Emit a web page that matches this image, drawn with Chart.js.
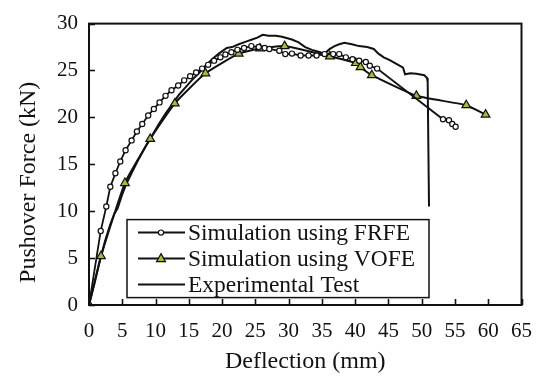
<!DOCTYPE html>
<html>
<head>
<meta charset="utf-8">
<script src="https://cdn.jsdelivr.net/npm/chart.js@4.4.1/dist/chart.umd.min.js"></script>
<style>
  html, body { margin: 0; padding: 0; background: #fff; }
  #wrap { width: 546px; height: 378px; }
</style>
</head>
<body>
<div id="wrap"><canvas id="pushover-chart" width="546" height="378"></canvas></div>
<script>
// deflection (mm) / force (kN)
const frfeX = [0, 1.76, 2.6, 3.2, 3.97, 4.7, 5.5, 6.4, 7.2, 8.0, 8.9, 9.75, 10.6, 11.5, 12.4, 13.4, 14.3, 15.2, 16.1, 17.0, 17.9, 18.8, 19.75, 20.5, 21.4, 22.3, 23.3, 24.4, 25.5, 26.4, 27.1, 28.6, 29.5, 30.5, 31.8, 33.0, 34.2, 35.4, 36.7, 37.6, 38.6, 39.6, 40.6, 41.6, 42.2, 43.3, 53.2, 54.1, 54.6, 55.1];
const frfeY = [0, 7.9, 10.5, 12.6, 14.05, 15.3, 16.5, 17.55, 18.5, 19.3, 20.2, 20.9, 21.6, 22.3, 22.9, 23.4, 23.95, 24.4, 24.8, 25.2, 25.6, 26.05, 26.4, 26.7, 26.95, 27.2, 27.4, 27.6, 27.5, 27.4, 27.3, 27.1, 26.75, 26.8, 26.6, 26.6, 26.6, 26.75, 26.75, 26.75, 26.4, 26.2, 26.05, 25.9, 25.5, 25.2, 19.8, 19.7, 19.3, 19.0];

const vofeX = [0, 1.8, 5.4, 9.2, 12.9, 17.5, 22.5, 25.7, 29.4, 36.2, 40.1, 40.8, 42.5, 49.2, 56.7, 59.6];
const vofeY = [0, 5.2, 13.0, 17.7, 21.5, 24.7, 26.8, 27.35, 27.6, 26.5, 25.8, 25.35, 24.5, 22.3, 21.3, 20.3];

const testX = [0, 0.8, 1.6, 2.4, 3.2, 3.8, 4.3, 4.9, 5.6, 6.5, 7.5, 8.5, 9.5, 10.5, 11.5, 12.5, 13.5, 14.5, 15.5, 16.5, 17.5, 18.5, 19.5, 20.7, 21.5, 22.5, 23.7, 24.5, 25.3, 26.1, 27.0, 28.1, 29.0, 30.5, 31.5, 32.5, 33.5, 34.5, 35.4, 36.2, 36.9, 37.6, 38.4, 39.5, 40.6, 41.8, 42.8, 43.5, 44.3, 45.2, 46.2, 47.2, 47.5, 48.3, 49.2, 50.4, 50.8, 50.9, 51.0, 51.1];
const testY = [0, 2.2, 4.6, 6.8, 8.6, 9.7, 10.3, 11.6, 12.9, 14.2, 15.6, 16.9, 18.1, 19.3, 20.4, 21.4, 22.4, 23.2, 24.0, 24.7, 25.5, 26.2, 26.8, 27.4, 27.5, 27.8, 28.1, 28.3, 28.5, 28.8, 28.7, 28.7, 28.6, 28.3, 28.0, 27.5, 27.2, 27.0, 26.8, 27.3, 27.6, 27.8, 27.95, 27.8, 27.6, 27.5, 27.3, 26.8, 26.4, 26.1, 25.7, 25.3, 24.6, 24.7, 24.65, 24.5, 24.2, 23.8, 17.0, 10.5];

const xTicks = [0, 5, 10, 15, 20, 25, 30, 35, 40, 45, 50, 55, 60, 65];
const yTicks = [0, 5, 10, 15, 20, 25, 30];

const serif = '"Liberation Serif", "Times New Roman", serif';
const triGreen = '#9dbd3e';

const toPoints = (xs, ys) => xs.map((x, i) => ({ x: x, y: ys[i] }));

// frame, inward tick marks and the y title (sits a bit below centre in the original)
const framePlugin = {
    id: 'frame',
    afterDraw(chart) {
        const { ctx, chartArea: a, scales } = chart;
        ctx.save();
        ctx.strokeStyle = '#111';
        ctx.lineWidth = 1.6;
        xTicks.forEach(v => {
            const px = Math.round(scales.x.getPixelForValue(v)) + 0.5;
            ctx.beginPath();
            ctx.moveTo(px, a.bottom);
            ctx.lineTo(px, a.bottom - 6);
            ctx.stroke();
        });
        yTicks.forEach(v => {
            const py = Math.round(scales.y.getPixelForValue(v)) + 0.5;
            ctx.beginPath();
            ctx.moveTo(a.left, py);
            ctx.lineTo(a.left + 6, py);
            ctx.stroke();
        });
        ctx.lineWidth = 2;
        ctx.strokeRect(a.left, a.top, a.right - a.left, a.bottom - a.top);

        ctx.translate(29, (a.top + a.bottom) / 2 + 18);
        ctx.rotate(-Math.PI / 2);
        ctx.fillStyle = '#111';
        ctx.font = '24px ' + serif;
        ctx.textAlign = 'center';
        ctx.textBaseline = 'middle';
        ctx.fillText('Pushover Force (kN)', 0, 0);
        ctx.restore();
    }
};

// boxed legend inside the plot
const boxLegend = {
    id: 'boxLegend',
    afterDraw(chart) {
        const { ctx, chartArea: a } = chart;
        const left = a.left + 38, top = a.top + 196, w = 302, h = 78;
        ctx.save();
        ctx.fillStyle = '#fff';
        ctx.fillRect(left, top, w, h);
        ctx.strokeStyle = '#111';
        ctx.lineWidth = 1.5;
        ctx.strokeRect(left, top, w, h);
        chart.data.datasets.forEach((ds, i) => {
            const y = top + 13 + i * 26;
            ctx.strokeStyle = '#111';
            ctx.lineWidth = 2;
            ctx.beginPath();
            ctx.moveTo(left + 11, y);
            ctx.lineTo(left + 58, y);
            ctx.stroke();
            const cx = left + 34;
            if (ds.pointStyle === 'circle' && ds.pointRadius > 0) {
                ctx.fillStyle = '#fff';
                ctx.lineWidth = 1.2;
                ctx.beginPath();
                ctx.arc(cx, y, 2.6, 0, Math.PI * 2);
                ctx.fill();
                ctx.stroke();
            } else if (ds.pointStyle === 'triangle') {
                ctx.fillStyle = triGreen;
                ctx.lineWidth = 1.2;
                ctx.beginPath();
                ctx.moveTo(cx, y - 5);
                ctx.lineTo(cx + 4.5, y + 3);
                ctx.lineTo(cx - 4.5, y + 3);
                ctx.closePath();
                ctx.fill();
                ctx.stroke();
            }
            ctx.fillStyle = '#111';
            ctx.font = '23.5px ' + serif;
            ctx.textAlign = 'left';
            ctx.textBaseline = 'middle';
            ctx.fillText(ds.label, left + 61, y + 1);
        });
        ctx.restore();
    }
};

const ctx = document.getElementById('pushover-chart').getContext('2d');

const pushoverChart = new Chart(ctx, {
    type: 'scatter',
    data: {
        datasets: [
            {
                label: 'Simulation using FRFE',
                data: toPoints(frfeX, frfeY),
                showLine: true,
                borderColor: '#111',
                borderWidth: 1.8,
                pointStyle: 'circle',
                pointRadius: 2.6,
                pointBorderWidth: 1.2,
                pointBackgroundColor: '#fff',
                pointBorderColor: '#111'
            },
            {
                label: 'Simulation using VOFE',
                data: toPoints(vofeX, vofeY),
                showLine: true,
                tension: 0.15,
                borderColor: '#111',
                borderWidth: 2,
                pointStyle: 'triangle',
                pointRadius: 5,
                pointBorderWidth: 1.2,
                pointBackgroundColor: triGreen,
                pointBorderColor: '#111'
            },
            {
                label: 'Experimental Test',
                data: toPoints(testX, testY),
                showLine: true,
                borderColor: '#111',
                borderWidth: 2,
                pointRadius: 0,
                pointStyle: false
            }
        ]
    },
    options: {
        responsive: false,
        animation: false,
        layout: { padding: { left: 0, right: 15, top: 19, bottom: 0 } },
        plugins: {
            legend: { display: false },
            tooltip: { enabled: false }
        },
        scales: {
            x: {
                type: 'linear',
                min: 0,
                max: 65,
                afterBuildTicks: scale => { scale.ticks = xTicks.map(v => ({ value: v })); },
                afterFit: scale => { scale.height = 73; },
                grid: { display: false, drawTicks: false },
                border: { display: false },
                ticks: {
                    color: '#111',
                    padding: 14,
                    maxRotation: 0,
                    autoSkip: false,
                    font: { family: serif, size: 21 }
                },
                title: {
                    display: true,
                    text: 'Deflection (mm)',
                    color: '#111',
                    padding: { top: 0, bottom: 2 },
                    font: { family: serif, size: 24 }
                }
            },
            y: {
                type: 'linear',
                min: 0,
                max: 30,
                afterBuildTicks: scale => { scale.ticks = yTicks.map(v => ({ value: v })); },
                afterFit: scale => { scale.width = 89; },
                grid: { display: false, drawTicks: false },
                border: { display: false },
                ticks: {
                    color: '#111',
                    padding: 11,
                    font: { family: serif, size: 21 }
                },
                title: { display: false }
            }
        }
    },
    plugins: [framePlugin, boxLegend]
});
</script>
</body>
</html>
